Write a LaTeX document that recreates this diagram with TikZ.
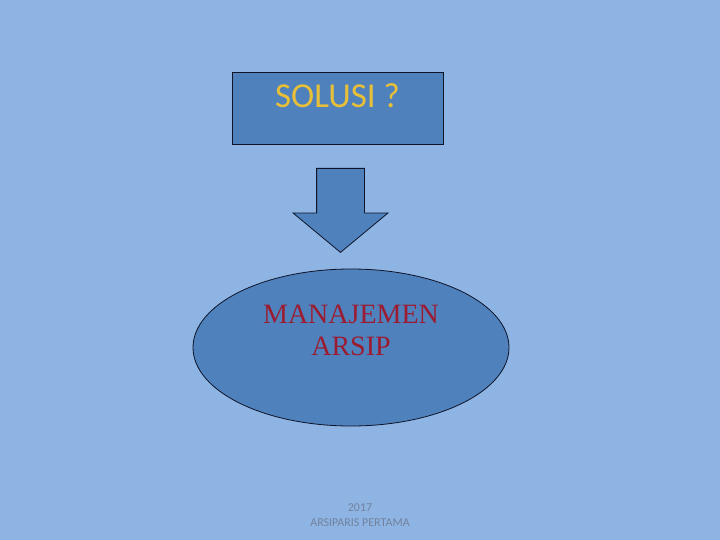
\documentclass[tikz,border=0pt]{standalone}
\usepackage{fontspec}
\setmainfont{Liberation Serif}
\newfontfamily\calibri{Carlito}
\usetikzlibrary{shapes.geometric,shapes.arrows}
\definecolor{latar}{RGB}{141,180,226}
\definecolor{isian}{RGB}{79,129,189}
\definecolor{garis}{RGB}{15,20,40}
\definecolor{emas}{RGB}{232,192,56}
\definecolor{merah}{RGB}{155,28,48}
\definecolor{abu}{RGB}{115,130,158}
\begin{document}
\begin{tikzpicture}[
    x=1pt, y=-1pt,
    kotak/.style={draw=garis, fill=isian, line width=0.9pt, rectangle,
        minimum width=211pt, inner xsep=0pt, inner ysep=0pt,
        text height=36pt, text depth=36pt, text=emas,
        font=\calibri\fontsize{35}{38}\selectfont},
    panah/.style={draw=garis, fill=isian, line width=0.8pt, single arrow,
        rotate=-90, minimum height=84pt, inner xsep=0pt, inner ysep=23.5pt,
        single arrow head extend=23.5pt, single arrow tip angle=100.6},
    elips/.style={draw=garis, fill=isian, line width=0.8pt, ellipse,
        minimum width=316pt, minimum height=157pt, inner sep=0pt},
    kaki/.style={text=abu, align=center, font=\calibri\fontsize{12}{14.5}\selectfont}
]
\fill[latar] (0,0) rectangle (720,540);
\node[kotak] (solusi) at (337.5,108) {SOLUSI ?};
\node[panah, anchor=tail] (turun) at (340.5,168) {};
\node[elips, label={[text=merah, align=center, yshift=17.5pt,
    font=\fontsize{28}{32}\selectfont]center:MANAJEMEN\\ARSIP}] (arsip) at (351,347.5) {};
\node[kaki] (tahun) at (360,515) {2017\\ARSIPARIS PERTAMA};
\end{tikzpicture}
\end{document}
